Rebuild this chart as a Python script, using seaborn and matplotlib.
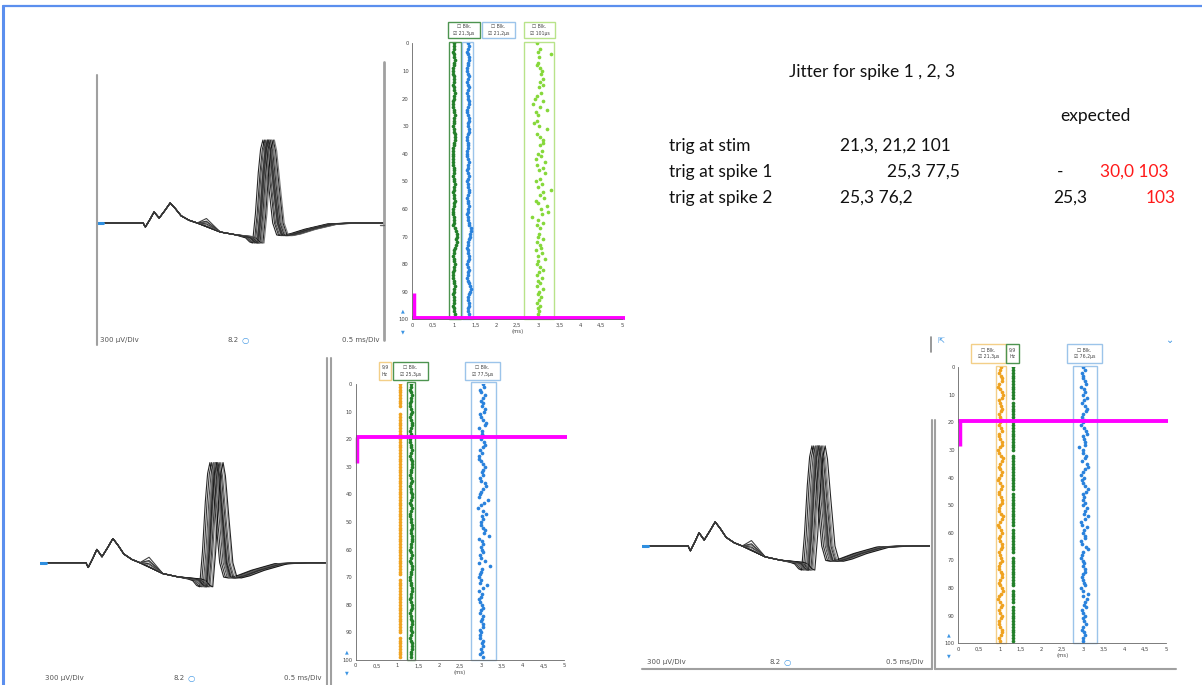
import numpy as np
import pandas as pd
import seaborn as sns
import matplotlib.pyplot as plt
from matplotlib.lines import Line2D
from matplotlib.patches import Rectangle

W, H = 1202, 685

# ---- data ---------------------------------------------------------------
# averaged waveform template (ms, uV); spike part (t >= 2.6) moves with latency
wave_t = [0.0, 0.80, 0.84, 0.92, 0.99, 1.08, 1.18, 1.27, 1.36, 1.46, 1.60, 1.74,
          1.90, 2.14, 2.40, 2.60, 2.68, 2.75, 2.80, 2.85, 2.90, 2.94, 2.98, 3.02,
          3.08, 3.15, 3.22, 3.30, 3.45, 3.70, 4.10, 4.50, 5.0]
wave_uv = [0, 0, -44, 40, 122, 55, 140, 222, 160, 80, 30, 0,
           -40, -100, -130, -150, -165, -210, -222, 100, 560, 820, 921, 800,
           420, 0, -133, -140, -120, -70, -10, 0, 0]

# spike latency shift of each overlaid sweep (ms), per panel
shift_stim = [-0.10, -0.07, -0.05, -0.03, -0.02, 0.0, 0.01, 0.02, 0.03, 0.05, 0.06, 0.08, 0.10, -0.01]
shift_spike1 = [-0.02, 0.01, 0.04, 0.06, 0.08, 0.09, 0.10, 0.12, 0.14, 0.16, 0.19, 0.21, 0.07, 0.11]
shift_spike2 = [-0.03, 0.0, 0.03, 0.05, 0.07, 0.08, 0.10, 0.11, 0.13, 0.15, 0.17, 0.20, 0.06, 0.09]
# late hump after the early potentials (uV added at 1.9 ms)
hump = [0, 60, 0, 0, 90, 0, 30, 0, 0, 50, 0, 0, 20, 0]

sweeps = list(range(100))

# raster latencies, trigger at stim (hundredths of ms offset from centre)
stim_green_c = 0.99
stim_green = [0, 1, 0, -1, 0, 1, 2, 1, 0, -1,
              -2, -1, 0, 1, 0, -1, 0, 1, 2, 1,
              0, -1, -2, -1, 0, 1, 2, 1, 0, 0,
              -1, 0, 1, 2, 3, 2, 1, 0, -1, -2,
              -1, -2, -3, -2, -1, 0, 1, 0, -1, 0,
              1, 2, 1, 0, -1, 0, 1, 2, 1, 0,
              -1, -2, -1, 0, 1, 0, -2, 3, 6, 8,
              7, 6, 7, 5, 3, 1, 0, -1, 0, 1,
              2, 1, 0, -1, -2, -1, 0, 1, 2, 1,
              0, -1, 0, 1, 0, -1, 0, 1, 2, 1]
stim_blue_c = 1.32
stim_blue = [0, 2, 1, -1, 0, 2, 3, 1, 0, -2,
             -1, 1, 2, 0, -1, 0, 2, 1, -1, 0,
             1, 3, 2, 0, -2, -1, 1, 2, 3, 1,
             0, 2, 3, 1, -1, -2, 0, 1, 0, -1,
             -2, -1, 0, 2, 1, 0, -1, 1, 2, 0,
             -1, 0, 1, 3, 2, 0, -1, 0, 1, 2,
             1, 0, -1, 0, 1, 2, 4, 7, 8, 6,
             5, 3, 1, 0, -1, 0, 1, 3, 2, 0,
             -1, 0, 2, 1, 0, -1, 0, 3, 6, 7,
             5, 2, 0, 1, 3, 2, 0, 1, 2, 3]
stim_lime = [2.98, None, 3.05, 2.99, 3.30, 3.02, None, 3.00, 2.97, 3.03,
             3.08, 3.06, None, 3.10, 3.04, 3.12, 3.02, None, 3.06, 2.98,
             2.93, 3.10, 2.87, 3.05, 3.20, 2.95, 3.00, None, 2.98, 2.90,
             3.02, 3.20, None, 2.97, 3.05, 3.10, 3.12, 3.03, None, 3.08,
             3.00, 3.06, 2.95, 3.15, 2.98, 3.10, 3.02, 3.16, None, 3.05,
             2.95, 3.08, 3.00, 3.30, 3.10, 3.05, 3.14, 2.94, 3.00, 3.20,
             3.06, 3.22, 3.08, 2.84, 3.00, 3.12, 2.96, 3.05, None, 3.02,
             3.00, 3.10, 2.98, 3.03, 3.06, 2.95, 3.08, 3.00, 3.15, 3.00,
             2.98, 3.05, 3.10, 3.02, 2.96, 3.08, 3.00, 3.04, 2.98, 3.10,
             3.02, 2.99, 3.06, 3.01, 2.97, 3.04, 3.00, 3.02, 2.99, 3.00]

# trigger at spike 1
sp1_trig = 1.05
sp1_trig_gaps = [9, 10, 70, 91]
sp1_green_c = 1.32
sp1_green = [0, 1, -1, 0, 2, 1, 0, -2, -1, 1,
             2, 0, -1, 1, 3, 2, 0, -1, 0, 1,
             -1, -2, 0, 1, 2, 0, -1, 0, 3, 4,
             2, 1, 0, -1, 0, 2, 1, -2, 0, 1,
             3, 2, 0, -1, 1, 2, 0, -1, -2, 0,
             1, 2, 3, 1, 0, 2, 4, 3, 1, 0,
             -1, 0, 2, 1, -1, 0, 3, 2, 1, 0,
             -1, -2, 0, 1, 2, 3, 1, 0, -1, 0,
             2, 3, 1, -1, 0, 1, 3, 2, 0, 1,
             2, 0, -1, 1, 3, 4, 2, 0, 1, 0]
sp1_blue = [305, 307, 297, 300, 310, 306, 301, 304, 303, 311,
            308, 298, 300, 304, 313, 309, 296, 302, 303, 306,
            300, 308, 310, 304, 299, 302, 296, 295, 300, 304,
            310, 306, 303, 305, 298, 301, 309, 312, 305, 300,
            298, 296, 318, 307, 300, 294, 304, 312, 302, 306,
            300, 301, 305, 310, 307, 320, 296, 303, 304, 300,
            302, 306, 297, 300, 309, 296, 321, 303, 301, 298,
            296, 300, 298, 314, 304, 296, 302, 300, 295, 299,
            303, 306, 301, 298, 305, 303, 300, 306, 304, 299,
            300, 297, 299, 304, 302, 306, 301, 303, 299, 305]

# trigger at spike 2
sp2_orange = [103, 100, 97, 102, 106, 104, 99, 96, 100, 105,
              107, 104, 98, 101, 103, 106, 102, 97, 100, 104,
              101, 98, 102, 105, 99, 97, 101, 104, 106, 100,
              96, 99, 103, 107, 105, 101, 98, 100, 104, 102,
              99, 96, 101, 105, 103, 99, 97, 102, 106, 104,
              100, 97, 99, 103, 107, 104, 100, 96, 98, 102,
              105, 101, 97, 100, 104, 106, 102, 98, 100, 103,
              105, 101, 97, 99, 103, 106, 104, 100, 97, 101,
              105, 107, 103, 99, 96, 100, 104, 102, 98, 101,
              105, 103, 99, 97, 100, 104, 106, 102, 99, 101]
sp2_trig = 1.31
sp2_trig_gaps = [12, 31, 45, 58, 68, 80, 86]
sp2_blue = [300, 306, 297, 301, 299, 304, 308, 296, 302, 305,
            300, 309, 303, 298, 305, 311, 307, 300, 297, 303,
            300, 296, 302, 307, 311, 299, 302, 305, 304, 291,
            299, 300, 308, 306, 297, 310, 312, 304, 300, 296,
            303, 298, 301, 304, 313, 308, 300, 302, 299, 306,
            300, 309, 304, 303, 313, 306, 295, 297, 311, 303,
            300, 306, 304, 295, 298, 308, 312, 300, 297, 296,
            301, 303, 299, 306, 304, 300, 297, 299, 303, 305,
            296, 300, 312, 299, 310, 305, 302, 307, 297, 300,
            305, 299, 303, 307, 300, 297, 302, 306, 299, 300]

# ---- figure ---------------------------------------------------------------
sns.set_style("white")
plt.rcParams["font.family"] = ["Lato", "DejaVu Sans"]

DGREEN, BLUE, LIME, ORANGE, MAGENTA = "#23802a", "#2a82dc", "#86d83a", "#efa21f", "#ff00ff"
ICON = "#3d95e3"
trace_colors = ["#000000", "#111111", "#333333", "#777777", "#222222", "#555555", "#000000",
                "#999999", "#1a1a1a", "#444444", "#888888", "#000000", "#666666", "#2b2b2b"]

fig = plt.figure(figsize=(W / 100, H / 100), dpi=100)


def px_axes(x0, y0, x1, y1):
    return fig.add_axes([x0 / W, 1 - y1 / H, (x1 - x0) / W, (y1 - y0) / H])


def fline(xs, ys, color="#a0a0a0", lw=1.5):
    fig.add_artist(Line2D([x / W for x in xs], [1 - y / H for y in ys],
                          transform=fig.transFigure, color=color, lw=lw))


def ftext(x, y, s, **kw):
    fig.text(x / W, 1 - y / H, s, **kw)


def draw_wave(box, base_px, uv_per_px, shifts, labels_y, label_x):
    x0, y0, x1, y1 = box
    ax = px_axes(*box)
    rows = []
    hump_i = wave_t.index(1.90)
    for i, dt in enumerate(shifts):
        for j, (t, a) in enumerate(zip(wave_t, wave_uv)):
            tt = t + dt if 2.6 <= t < 5.0 else t
            aa = a + hump[i] if j == hump_i else a
            rows.append((i, tt, aa))
    df = pd.DataFrame(rows, columns=["trace", "t", "uv"])
    sns.lineplot(df, x="t", y="uv", hue="trace", palette=trace_colors[:len(shifts)],
                 estimator=None, sort=False, lw=0.8, alpha=0.85, legend=False, ax=ax)
    ax.plot([0, 0.1], [0, 0], color="#2f8fe0", lw=2.2)
    ax.set_xlim(0, 5)
    ax.set_ylim(-(y1 - base_px) * uv_per_px, (base_px - y0) * uv_per_px)
    ax.axis("off")
    lx0, lx8, lx1 = label_x
    ftext(lx0, labels_y, "300 µV/Div", fontsize=5, color="#555555", va="center",
          family=["DejaVu Sans"])
    ftext(lx8, labels_y, "8.2", fontsize=5, color="#555555", va="center", family=["DejaVu Sans"])
    ftext(lx8 + 14, labels_y, "○", fontsize=6, color=ICON, va="center", fontweight="bold",
          family=["DejaVu Sans"])
    ftext(lx1, labels_y, "0.5 ms/Div", fontsize=5, color="#555555", va="center", ha="right",
          family=["DejaVu Sans"])


def draw_raster(box):
    ax = px_axes(*box)
    ax.set_facecolor("none")
    ax.set_xlim(0, 5)
    ax.set_ylim(100, 0)
    ax.set_xticks(np.arange(0, 5.01, 0.5))
    ax.set_xticklabels(["0", "0,5", "1", "1,5", "2", "2,5", "3", "3,5", "4", "4,5", "5"])
    ax.set_xticks(np.arange(0, 5.01, 0.1), minor=True)
    ax.set_yticks(range(0, 101, 10))
    ax.set_yticks(range(0, 101, 2), minor=True)
    ax.tick_params(which="major", direction="inout", length=3, width=0.5, labelsize=3.8,
                   pad=1, color="#444444", labelcolor="#444444")
    ax.tick_params(which="minor", direction="inout", length=2, width=0.4, color="#555555")
    for s in ["top", "right"]:
        ax.spines[s].set_visible(False)
    for s in ["left", "bottom"]:
        ax.spines[s].set_color("#666666")
        ax.spines[s].set_linewidth(0.6)
    for lab in ax.get_xticklabels() + ax.get_yticklabels():
        lab.set_family(["DejaVu Sans"])
    ax.text(-0.22, 98, "▲", fontsize=3.5, color=ICON, ha="center", va="bottom", clip_on=False)
    ax.text(-0.22, 104.5, "▼", fontsize=3.5, color=ICON, ha="center", va="center", clip_on=False)
    return ax


def dots(ax, xs, ys, color, s=7, marker="o"):
    df = pd.DataFrame({"lat": xs, "sweep": ys}).dropna()
    sns.scatterplot(df, x="lat", y="sweep", color=color, s=s, marker=marker,
                    linewidth=0, ax=ax, legend=False)
    ax.set_xlabel("(ms)", fontsize=3.8, labelpad=1, color="#444444", family=["DejaVu Sans"])
    ax.set_ylabel("")


def column_box(ax, x0, x1, color, top=-0.6):
    ax.add_patch(Rectangle((x0, top), x1 - x0, 100 - top, fill=False, edgecolor=color,
                           lw=1.0, clip_on=False))


def legend_box(x0, y0, x1, y1, color, lines):
    fig.add_artist(Rectangle((x0 / W, 1 - y1 / H), (x1 - x0) / W, (y1 - y0) / H,
                             transform=fig.transFigure, fill=False, edgecolor=color, lw=1.0))
    ftext((x0 + x1) / 2, (y0 + y1) / 2, lines, fontsize=3.3, color="#444444",
          ha="center", va="center", linespacing=1.4, family=["DejaVu Sans"])


def magenta(ax, y, y_end):
    ax.plot([0, 5.06], [y, y], color=MAGENTA, lw=2.8, clip_on=False, solid_capstyle="butt")
    ax.plot([0.03, 0.03], [y, y_end], color=MAGENTA, lw=2.5, clip_on=False,
            solid_capstyle="butt")


# frame lines of the screenshot
fline([3, 1202], [6, 6], color="#5b8fee", lw=1.6)
fline([3, 3], [6, 685], color="#5b8fee", lw=2.2)

# --- top: trigger at stimulus ---
draw_wave((97, 75, 385, 345), 223, 11.1, shift_stim, 340, (100, 228, 380))
fline([97, 97], [75, 345])
fline([384, 384], [62, 340], lw=2)
fline([380, 384], [225, 225], color="#666666", lw=1)

ax = draw_raster((412.3, 43.3, 622.3, 319.3))
column_box(ax, 0.87, 1.16, "#4d9450")
column_box(ax, 1.18, 1.44, "#9cc4ea")
column_box(ax, 2.67, 3.38, "#b8e38a")
dots(ax, [stim_green_c + v / 100 for v in stim_green], sweeps, DGREEN)
dots(ax, [stim_blue_c + v / 100 for v in stim_blue], sweeps, BLUE)
dots(ax, stim_lime, sweeps, LIME)
magenta(ax, 99.4, 90.3)
legend_box(448, 22, 480, 38, "#4d9450", "☐ Blk.\n☑ 21,3µs")
legend_box(482, 22, 515, 38, "#9cc4ea", "☐ Blk.\n☑ 21,2µs")
legend_box(524, 22, 555, 38, "#b8e38a", "☐ Blk.\n☑ 101µs")

# --- bottom left: trigger at spike 1 ---
draw_wave((40, 390, 327, 680), 562.7, 9.2, shift_spike1, 678, (45, 173, 322))
fline([327, 327], [358, 685], lw=1.5)
fline([330.5, 330.5], [358, 685], lw=1.5)

ax = draw_raster((355.7, 384, 564.3, 660))
column_box(ax, 1.23, 1.43, "#4d9450")
column_box(ax, 2.76, 3.36, "#9cc4ea")
dots(ax, [sp1_trig if i not in sp1_trig_gaps else None for i in sweeps], sweeps, ORANGE)
dots(ax, [sp1_green_c + v / 100 for v in sp1_green], sweeps, DGREEN)
dots(ax, [v / 100 for v in sp1_blue], sweeps, BLUE)
magenta(ax, 19.3, 28.5)
legend_box(379, 362, 391, 380, "#f3cf88", "9,9\nHz")
legend_box(393, 362, 428, 380, "#4d9450", "☐ Blk.\n☑ 25,3µs")
legend_box(465, 362, 500, 380, "#9cc4ea", "☐ Blk.\n☑ 77,5µs")

# --- bottom right: trigger at spike 2 ---
draw_wave((642, 400, 930, 668), 546, 9.2, shift_spike2, 662, (647, 770, 924))
fline([642, 932], [669, 669])
fline([932, 932], [420, 669])
fline([935, 935], [420, 669])
fline([935, 1176], [669, 669])
fline([931, 931], [337, 352], color="#888888", lw=1.2)
ftext(937, 340, "⇱", fontsize=6, color=ICON, va="center", family=["DejaVu Sans"])
ftext(1170, 340, "⌄", fontsize=7, color=ICON, va="center", ha="center",
      family=["DejaVu Sans"])

ax = draw_raster((958.3, 367.3, 1166, 643.3))
column_box(ax, 0.91, 1.15, "#f3cf88")
column_box(ax, 2.75, 3.33, "#9cc4ea")
dots(ax, [v / 100 for v in sp2_orange], sweeps, ORANGE)
dots(ax, [sp2_trig if i not in sp2_trig_gaps else None for i in sweeps], sweeps, DGREEN)
dots(ax, [v / 100 for v in sp2_blue], sweeps, BLUE)
magenta(ax, 19.4, 28.5)
legend_box(971, 344, 1006, 363, "#f3cf88", "☐ Blk.\n☑ 21,3µs")
legend_box(1006, 344, 1019, 363, "#4d9450", "9,9\nHz")
legend_box(1067, 344, 1102, 363, "#9cc4ea", "☐ Blk.\n☑ 76,2µs")

# --- notes ---
TXT = dict(fontsize=12.5, color="#111111", va="center")
RED = dict(fontsize=12.5, color="#ff1a1a", va="center")
ftext(789, 72, "Jitter for spike 1 , 2, 3", **TXT)
ftext(1060, 116, "expected", **TXT)
ftext(669, 146, "trig at stim", **TXT)
ftext(840, 146, "21,3, 21,2 101", **TXT)
ftext(669, 172, "trig at spike 1", **TXT)
ftext(887, 172, "25,3 77,5", **TXT)
ftext(1057, 172, "-", **TXT)
ftext(1100, 172, "30,0 103", **RED)
ftext(669, 198, "trig at spike 2", **TXT)
ftext(840, 198, "25,3 76,2", **TXT)
ftext(1053, 198, "25,3", **TXT)
ftext(1146, 198, "103", **RED)

fig.savefig("out.png", dpi=100)
